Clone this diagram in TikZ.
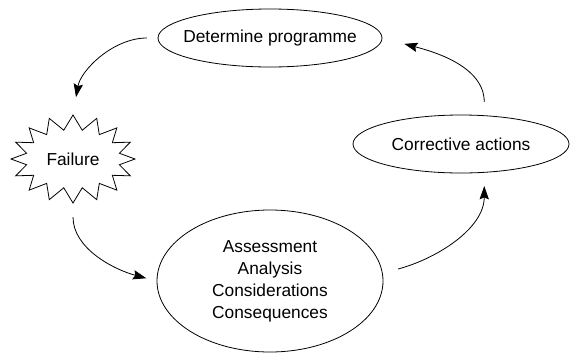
\documentclass[tikz,border=0pt]{standalone}
\usepackage{fontspec}
\setmainfont{Liberation Sans}
\usetikzlibrary{shapes.geometric,shapes.symbols,arrows.meta}

\begin{document}
\begin{tikzpicture}[x=0.75pt, y=-0.75pt,
  stage/.style={ellipse, draw, line width=0.6pt, inner sep=0pt, font=\fontsize{13}{16.5}\selectfont, align=center},
  burst/.style={starburst, draw, line width=0.6pt, starburst points=16, starburst point height=11pt, random starburst=0, font=\fontsize{13}{16.5}\selectfont},
  flow/.style={-{Stealth[length=10pt, width=7pt, inset=1.5pt]}, line width=0.6pt}]
\useasboundingbox (0,0) rectangle (571,354);
\node[stage, inner xsep=-6pt, minimum width=168pt, minimum height=43.5pt] (prog) at (270,38) {Determine programme};
\node[burst, minimum width=93pt, minimum height=66pt] (fail) at (73,159) {Failure};
\node[stage, minimum width=162pt, minimum height=43.5pt] (corr) at (461,144) {Corrective actions};
\node[stage, minimum width=169.5pt, minimum height=106.5pt] (asmt) at (270,281) {Assessment\\Analysis\\Considerations\\Consequences};

\draw[flow, shorten <=8pt, shorten >=13pt](prog.west) to[out=180, in=80] (fail.north);
\draw[flow, shorten <=10pt, shorten >=8pt](fail.south) to[out=-90, in=165] (asmt.west);
\draw[flow, shorten <=12pt, shorten >=10pt](asmt.4) to[out=15, in=-90] (corr.-51);
\draw[flow, shorten <=10pt, shorten >=17pt](corr.51) to[out=90, in=-15] (prog.east);

\end{tikzpicture}
\end{document}
